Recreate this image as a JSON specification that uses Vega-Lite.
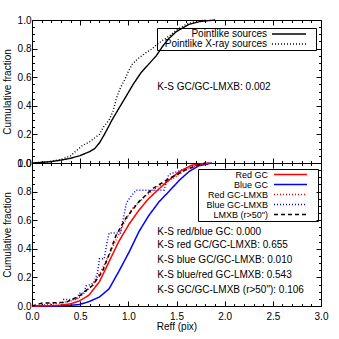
{
  "$schema": "https://vega.github.io/schema/vega-lite/v6.json",
  "padding": {"left": 1, "top": 14, "right": 5, "bottom": 2},
  "spacing": 0,
  "bounds": "flush",
  "config": {
    "font": "Liberation Sans",
    "view": {"stroke": "black", "strokeWidth": 1},
    "axis": {"domain": false, "grid": false, "tickColor": "black", "tickWidth": 1, "labelColor": "black", "labelFont": "Liberation Sans", "labelFontSize": 10, "titleFont": "Liberation Sans", "titleFontSize": 10, "titleFontWeight": "normal", "titleColor": "black", "labelFlush": false, "labelBound": false, "labelOverlap": false},
    "legend": {"labelFont": "Liberation Sans", "labelColor": "black"}
  },
  "datasets": {
    "top": [
      {"series": "Pointlike sources", "r": 0, "f": 0},
      {"series": "Pointlike sources", "r": 0.1, "f": 0.004},
      {"series": "Pointlike sources", "r": 0.2, "f": 0.01},
      {"series": "Pointlike sources", "r": 0.3, "f": 0.02},
      {"series": "Pointlike sources", "r": 0.4, "f": 0.033},
      {"series": "Pointlike sources", "r": 0.5, "f": 0.052},
      {"series": "Pointlike sources", "r": 0.6, "f": 0.08},
      {"series": "Pointlike sources", "r": 0.65, "f": 0.1},
      {"series": "Pointlike sources", "r": 0.7, "f": 0.14},
      {"series": "Pointlike sources", "r": 0.76, "f": 0.21},
      {"series": "Pointlike sources", "r": 0.83, "f": 0.3},
      {"series": "Pointlike sources", "r": 0.9, "f": 0.38},
      {"series": "Pointlike sources", "r": 0.98, "f": 0.47},
      {"series": "Pointlike sources", "r": 1.05, "f": 0.55},
      {"series": "Pointlike sources", "r": 1.13, "f": 0.63},
      {"series": "Pointlike sources", "r": 1.21, "f": 0.69},
      {"series": "Pointlike sources", "r": 1.29, "f": 0.75},
      {"series": "Pointlike sources", "r": 1.36, "f": 0.82},
      {"series": "Pointlike sources", "r": 1.42, "f": 0.87},
      {"series": "Pointlike sources", "r": 1.5, "f": 0.92},
      {"series": "Pointlike sources", "r": 1.63, "f": 0.97},
      {"series": "Pointlike sources", "r": 1.75, "f": 0.99},
      {"series": "Pointlike sources", "r": 1.9, "f": 1.0},
      {"series": "Pointlike X-ray sources", "r": 0, "f": 0},
      {"series": "Pointlike X-ray sources", "r": 0.1, "f": 0.005},
      {"series": "Pointlike X-ray sources", "r": 0.2, "f": 0.012},
      {"series": "Pointlike X-ray sources", "r": 0.3, "f": 0.025},
      {"series": "Pointlike X-ray sources", "r": 0.4, "f": 0.05},
      {"series": "Pointlike X-ray sources", "r": 0.45, "f": 0.08},
      {"series": "Pointlike X-ray sources", "r": 0.52, "f": 0.12},
      {"series": "Pointlike X-ray sources", "r": 0.6, "f": 0.15},
      {"series": "Pointlike X-ray sources", "r": 0.66, "f": 0.18},
      {"series": "Pointlike X-ray sources", "r": 0.7, "f": 0.2},
      {"series": "Pointlike X-ray sources", "r": 0.74, "f": 0.25},
      {"series": "Pointlike X-ray sources", "r": 0.8, "f": 0.3},
      {"series": "Pointlike X-ray sources", "r": 0.84, "f": 0.36},
      {"series": "Pointlike X-ray sources", "r": 0.88, "f": 0.46},
      {"series": "Pointlike X-ray sources", "r": 0.92, "f": 0.53},
      {"series": "Pointlike X-ray sources", "r": 0.96, "f": 0.58},
      {"series": "Pointlike X-ray sources", "r": 1.0, "f": 0.64},
      {"series": "Pointlike X-ray sources", "r": 1.04, "f": 0.69},
      {"series": "Pointlike X-ray sources", "r": 1.1, "f": 0.73},
      {"series": "Pointlike X-ray sources", "r": 1.18, "f": 0.77},
      {"series": "Pointlike X-ray sources", "r": 1.25, "f": 0.8},
      {"series": "Pointlike X-ray sources", "r": 1.3, "f": 0.83},
      {"series": "Pointlike X-ray sources", "r": 1.36, "f": 0.86},
      {"series": "Pointlike X-ray sources", "r": 1.43, "f": 0.89},
      {"series": "Pointlike X-ray sources", "r": 1.5, "f": 0.93},
      {"series": "Pointlike X-ray sources", "r": 1.6, "f": 0.97},
      {"series": "Pointlike X-ray sources", "r": 1.7, "f": 0.99},
      {"series": "Pointlike X-ray sources", "r": 1.8, "f": 1.0}
    ],
    "bottom": [
      {"series": "Blue GC", "r": 0, "f": 0},
      {"series": "Blue GC", "r": 0.28, "f": 0},
      {"series": "Blue GC", "r": 0.4, "f": 0.005},
      {"series": "Blue GC", "r": 0.49, "f": 0.01},
      {"series": "Blue GC", "r": 0.59, "f": 0.03},
      {"series": "Blue GC", "r": 0.7, "f": 0.063},
      {"series": "Blue GC", "r": 0.8, "f": 0.12},
      {"series": "Blue GC", "r": 0.9, "f": 0.24},
      {"series": "Blue GC", "r": 1.01, "f": 0.38},
      {"series": "Blue GC", "r": 1.11, "f": 0.52},
      {"series": "Blue GC", "r": 1.21, "f": 0.63},
      {"series": "Blue GC", "r": 1.32, "f": 0.73},
      {"series": "Blue GC", "r": 1.42, "f": 0.8},
      {"series": "Blue GC", "r": 1.53, "f": 0.88},
      {"series": "Blue GC", "r": 1.63, "f": 0.94},
      {"series": "Blue GC", "r": 1.73, "f": 0.98},
      {"series": "Blue GC", "r": 1.87, "f": 1.0},
      {"series": "Blue GC-LMXB", "r": 0, "f": 0},
      {"series": "Blue GC-LMXB", "r": 0.31, "f": 0},
      {"series": "Blue GC-LMXB", "r": 0.33, "f": 0.045},
      {"series": "Blue GC-LMXB", "r": 0.47, "f": 0.045},
      {"series": "Blue GC-LMXB", "r": 0.49, "f": 0.09},
      {"series": "Blue GC-LMXB", "r": 0.54, "f": 0.09},
      {"series": "Blue GC-LMXB", "r": 0.56, "f": 0.14},
      {"series": "Blue GC-LMXB", "r": 0.64, "f": 0.16},
      {"series": "Blue GC-LMXB", "r": 0.68, "f": 0.23},
      {"series": "Blue GC-LMXB", "r": 0.7, "f": 0.33},
      {"series": "Blue GC-LMXB", "r": 0.75, "f": 0.33},
      {"series": "Blue GC-LMXB", "r": 0.78, "f": 0.45},
      {"series": "Blue GC-LMXB", "r": 0.8, "f": 0.51},
      {"series": "Blue GC-LMXB", "r": 0.92, "f": 0.51},
      {"series": "Blue GC-LMXB", "r": 0.95, "f": 0.62},
      {"series": "Blue GC-LMXB", "r": 0.98, "f": 0.72},
      {"series": "Blue GC-LMXB", "r": 1.02, "f": 0.76},
      {"series": "Blue GC-LMXB", "r": 1.08, "f": 0.81},
      {"series": "Blue GC-LMXB", "r": 1.37, "f": 0.81},
      {"series": "Blue GC-LMXB", "r": 1.42, "f": 0.92},
      {"series": "Blue GC-LMXB", "r": 1.55, "f": 0.95},
      {"series": "Blue GC-LMXB", "r": 1.65, "f": 0.98},
      {"series": "Blue GC-LMXB", "r": 1.85, "f": 1.0},
      {"series": "Red GC-LMXB", "r": 0, "f": 0},
      {"series": "Red GC-LMXB", "r": 0.15, "f": 0.01},
      {"series": "Red GC-LMXB", "r": 0.28, "f": 0.02},
      {"series": "Red GC-LMXB", "r": 0.4, "f": 0.035},
      {"series": "Red GC-LMXB", "r": 0.49, "f": 0.06},
      {"series": "Red GC-LMXB", "r": 0.63, "f": 0.145},
      {"series": "Red GC-LMXB", "r": 0.73, "f": 0.26},
      {"series": "Red GC-LMXB", "r": 0.83, "f": 0.4},
      {"series": "Red GC-LMXB", "r": 0.94, "f": 0.56},
      {"series": "Red GC-LMXB", "r": 1.04, "f": 0.68},
      {"series": "Red GC-LMXB", "r": 1.18, "f": 0.77},
      {"series": "Red GC-LMXB", "r": 1.32, "f": 0.84},
      {"series": "Red GC-LMXB", "r": 1.46, "f": 0.89},
      {"series": "Red GC-LMXB", "r": 1.59, "f": 0.95},
      {"series": "Red GC-LMXB", "r": 1.76, "f": 0.99},
      {"series": "Red GC-LMXB", "r": 1.85, "f": 1.0},
      {"series": "Red GC", "r": 0, "f": 0},
      {"series": "Red GC", "r": 0.2, "f": 0.002},
      {"series": "Red GC", "r": 0.28, "f": 0.005},
      {"series": "Red GC", "r": 0.4, "f": 0.015},
      {"series": "Red GC", "r": 0.49, "f": 0.035},
      {"series": "Red GC", "r": 0.59, "f": 0.075},
      {"series": "Red GC", "r": 0.7, "f": 0.17},
      {"series": "Red GC", "r": 0.8, "f": 0.31},
      {"series": "Red GC", "r": 0.9, "f": 0.45},
      {"series": "Red GC", "r": 1.01, "f": 0.575},
      {"series": "Red GC", "r": 1.11, "f": 0.67},
      {"series": "Red GC", "r": 1.21, "f": 0.75},
      {"series": "Red GC", "r": 1.32, "f": 0.82},
      {"series": "Red GC", "r": 1.42, "f": 0.88},
      {"series": "Red GC", "r": 1.53, "f": 0.94},
      {"series": "Red GC", "r": 1.66, "f": 0.985},
      {"series": "Red GC", "r": 1.84, "f": 1.0},
      {"series": "LMXB (r>50\")", "r": 0, "f": 0},
      {"series": "LMXB (r>50\")", "r": 0.1, "f": 0.02},
      {"series": "LMXB (r>50\")", "r": 0.35, "f": 0.025},
      {"series": "LMXB (r>50\")", "r": 0.49, "f": 0.07},
      {"series": "LMXB (r>50\")", "r": 0.63, "f": 0.145},
      {"series": "LMXB (r>50\")", "r": 0.73, "f": 0.24},
      {"series": "LMXB (r>50\")", "r": 0.8, "f": 0.36},
      {"series": "LMXB (r>50\")", "r": 0.87, "f": 0.49},
      {"series": "LMXB (r>50\")", "r": 0.97, "f": 0.61},
      {"series": "LMXB (r>50\")", "r": 1.11, "f": 0.73},
      {"series": "LMXB (r>50\")", "r": 1.25, "f": 0.82},
      {"series": "LMXB (r>50\")", "r": 1.42, "f": 0.89},
      {"series": "LMXB (r>50\")", "r": 1.59, "f": 0.95},
      {"series": "LMXB (r>50\")", "r": 1.7, "f": 0.98},
      {"series": "LMXB (r>50\")", "r": 1.8, "f": 1.0}
    ],
    "topNotes": [
      {"label": "K-S GC/GC-LMXB: 0.002", "r": 1.3, "f": 0.53}
    ],
    "bottomNotes": [
      {"label": "K-S red/blue GC: 0.000", "r": 1.3, "f": 0.517},
      {"label": "K-S red GC/GC-LMXB: 0.655", "r": 1.3, "f": 0.424},
      {"label": "K-S blue GC/GC-LMXB: 0.010", "r": 1.3, "f": 0.32},
      {"label": "K-S blue/red GC-LMXB: 0.543", "r": 1.3, "f": 0.219},
      {"label": "K-S GC/GC-LMXB (r>50\"): 0.106", "r": 1.3, "f": 0.114}
    ]
  },
  "resolve": {"scale": {"color": "independent", "strokeDash": "independent"}, "legend": {"color": "independent", "strokeDash": "independent"}},
  "vconcat": [
    {
      "width": 289,
      "height": 143,
      "resolve": {"axis": {"x": "independent", "y": "independent"}},
      "layer": [
        {
          "data": {"name": "top"},
          "mark": {"type": "line", "strokeWidth": 1.4},
          "encoding": {
            "x": {"field": "r", "type": "quantitative", "scale": {"domain": [0, 3], "nice": false},
              "axis": {"orient": "bottom", "values": [0, 0.5, 1, 1.5, 2, 2.5, 3], "tickSize": -5, "labels": false, "title": null}},
            "y": {"field": "f", "type": "quantitative", "scale": {"domain": [0, 1], "nice": false},
              "axis": {"orient": "left", "values": [0, 0.2, 0.4, 0.6, 0.8, 1.0], "tickSize": -5, "format": ".1f", "labelPadding": 6, "title": "Cumulative fraction", "titlePadding": 5}},
            "color": {"field": "series", "type": "nominal",
              "scale": {"domain": ["Pointlike sources", "Pointlike X-ray sources"], "range": ["#000000", "#000000"]},
              "legend": {"orient": "none", "legendX": 125, "legendY": 8, "title": null, "strokeColor": "black", "padding": 1, "symbolType": "M-1.6667,0M36.33,0H47.67M49.67,0", "symbolSize": 36, "symbolStrokeWidth": 1.3, "symbolFillColor": "transparent", "labelAlign": "right", "labelOffset": 99, "symbolOffset": 0, "labelFontSize": 10, "rowPadding": -4}},
            "strokeDash": {"field": "series", "type": "nominal",
              "scale": {"domain": ["Pointlike sources", "Pointlike X-ray sources"], "range": [[1, 0], [1, 2]]},
              "legend": {"orient": "none", "legendX": 125, "legendY": 8, "title": null, "strokeColor": "black", "padding": 1, "symbolType": "M-1.6667,0M36.33,0H47.67M49.67,0", "symbolSize": 36, "symbolStrokeWidth": 1.3, "symbolFillColor": "transparent", "labelAlign": "right", "labelOffset": 99, "symbolOffset": 0, "labelFontSize": 10, "rowPadding": -4}}
          }
        },
        {
          "data": {"name": "top"},
          "mark": {"type": "point", "opacity": 0},
          "encoding": {
            "x": {"field": "r", "type": "quantitative", "scale": {"domain": [0, 3], "nice": false},
              "axis": {"orient": "top", "values": [0, 0.5, 1, 1.5, 2, 2.5, 3], "tickSize": -5, "labels": false, "title": null}},
            "y": {"field": "f", "type": "quantitative", "scale": {"domain": [0, 1], "nice": false},
              "axis": {"orient": "right", "values": [0, 0.2, 0.4, 0.6, 0.8, 1.0], "tickSize": -5, "labels": false, "title": null}}
          }
        },
        {
          "data": {"name": "top"},
          "mark": {"type": "point", "opacity": 0},
          "encoding": {
            "x": {"field": "r", "type": "quantitative", "scale": {"domain": [0, 3], "nice": false},
              "axis": {"orient": "bottom", "values": [0.1, 0.2, 0.3, 0.4, 0.6, 0.7, 0.8, 0.9, 1.1, 1.2, 1.3, 1.4, 1.6, 1.7, 1.8, 1.9, 2.1, 2.2, 2.3, 2.4, 2.6, 2.7, 2.8, 2.9], "tickSize": -2.5, "labels": false, "title": null}},
            "y": {"field": "f", "type": "quantitative", "scale": {"domain": [0, 1], "nice": false},
              "axis": {"orient": "left", "values": [0.05, 0.1, 0.15, 0.25, 0.3, 0.35, 0.45, 0.5, 0.55, 0.65, 0.7, 0.75, 0.85, 0.9, 0.95], "tickSize": -2.5, "labels": false, "title": null}}
          }
        },
        {
          "data": {"name": "top"},
          "mark": {"type": "point", "opacity": 0},
          "encoding": {
            "x": {"field": "r", "type": "quantitative", "scale": {"domain": [0, 3], "nice": false},
              "axis": {"orient": "top", "values": [0.1, 0.2, 0.3, 0.4, 0.6, 0.7, 0.8, 0.9, 1.1, 1.2, 1.3, 1.4, 1.6, 1.7, 1.8, 1.9, 2.1, 2.2, 2.3, 2.4, 2.6, 2.7, 2.8, 2.9], "tickSize": -2.5, "labels": false, "title": null}},
            "y": {"field": "f", "type": "quantitative", "scale": {"domain": [0, 1], "nice": false},
              "axis": {"orient": "right", "values": [0.05, 0.1, 0.15, 0.25, 0.3, 0.35, 0.45, 0.5, 0.55, 0.65, 0.7, 0.75, 0.85, 0.9, 0.95], "tickSize": -2.5, "labels": false, "title": null}}
          }
        },
        {
          "data": {"name": "topNotes"},
          "mark": {"type": "text", "align": "left", "baseline": "middle", "fontSize": 10, "font": "Liberation Sans", "color": "black"},
          "encoding": {
            "x": {"field": "r", "type": "quantitative", "scale": {"domain": [0, 3], "nice": false}, "axis": null},
            "y": {"field": "f", "type": "quantitative", "scale": {"domain": [0, 1], "nice": false}, "axis": null},
            "text": {"field": "label"}
          }
        }
      ]
    },
    {
      "width": 289,
      "height": 143,
      "resolve": {"axis": {"x": "independent", "y": "independent"}},
      "layer": [
        {
          "data": {"name": "bottom"},
          "mark": {"type": "line", "strokeWidth": 1.5},
          "encoding": {
            "x": {"field": "r", "type": "quantitative", "scale": {"domain": [0, 3], "nice": false},
              "axis": {"orient": "bottom", "values": [0, 0.5, 1, 1.5, 2, 2.5, 3], "tickSize": -5, "format": ".1f", "labelPadding": 10, "title": "Reff (pix)", "titlePadding": 0}},
            "y": {"field": "f", "type": "quantitative", "scale": {"domain": [0, 1], "nice": false},
              "axis": {"orient": "left", "values": [0, 0.2, 0.4, 0.6, 0.8, 1.0], "tickSize": -5, "format": ".1f", "labelPadding": 6, "title": "Cumulative fraction", "titlePadding": 5}},
            "color": {"field": "series", "type": "nominal",
              "scale": {"domain": ["Red GC", "Blue GC", "Red GC-LMXB", "Blue GC-LMXB", "LMXB (r>50\")"], "range": ["#ff0000", "#0000ff", "#ff0000", "#0000ff", "#000000"]},
              "legend": {"orient": "none", "legendX": 166, "legendY": 6, "title": null, "strokeColor": "black", "padding": 1, "symbolType": "M-1.8,0M28.2,0H41.4M44.2,0", "symbolSize": 25, "symbolStrokeWidth": 1.4, "symbolFillColor": "transparent", "labelAlign": "right", "labelOffset": 60, "symbolOffset": 0, "labelFontSize": 9, "rowPadding": -3.5}},
            "strokeDash": {"field": "series", "type": "nominal",
              "scale": {"domain": ["Red GC", "Blue GC", "Red GC-LMXB", "Blue GC-LMXB", "LMXB (r>50\")"], "range": [[1, 0], [1, 0], [1, 2], [1, 2], [4, 3]]},
              "legend": {"orient": "none", "legendX": 166, "legendY": 6, "title": null, "strokeColor": "black", "padding": 1, "symbolType": "M-1.8,0M28.2,0H41.4M44.2,0", "symbolSize": 25, "symbolStrokeWidth": 1.4, "symbolFillColor": "transparent", "labelAlign": "right", "labelOffset": 60, "symbolOffset": 0, "labelFontSize": 9, "rowPadding": -3.5}}
          }
        },
        {
          "data": {"name": "bottom"},
          "mark": {"type": "point", "opacity": 0},
          "encoding": {
            "x": {"field": "r", "type": "quantitative", "scale": {"domain": [0, 3], "nice": false},
              "axis": {"orient": "top", "values": [0, 0.5, 1, 1.5, 2, 2.5, 3], "tickSize": -5, "labels": false, "title": null}},
            "y": {"field": "f", "type": "quantitative", "scale": {"domain": [0, 1], "nice": false},
              "axis": {"orient": "right", "values": [0, 0.2, 0.4, 0.6, 0.8, 1.0], "tickSize": -5, "labels": false, "title": null}}
          }
        },
        {
          "data": {"name": "bottom"},
          "mark": {"type": "point", "opacity": 0},
          "encoding": {
            "x": {"field": "r", "type": "quantitative", "scale": {"domain": [0, 3], "nice": false},
              "axis": {"orient": "bottom", "values": [0.1, 0.2, 0.3, 0.4, 0.6, 0.7, 0.8, 0.9, 1.1, 1.2, 1.3, 1.4, 1.6, 1.7, 1.8, 1.9, 2.1, 2.2, 2.3, 2.4, 2.6, 2.7, 2.8, 2.9], "tickSize": -2.5, "labels": false, "title": null}},
            "y": {"field": "f", "type": "quantitative", "scale": {"domain": [0, 1], "nice": false},
              "axis": {"orient": "left", "values": [0.05, 0.1, 0.15, 0.25, 0.3, 0.35, 0.45, 0.5, 0.55, 0.65, 0.7, 0.75, 0.85, 0.9, 0.95], "tickSize": -2.5, "labels": false, "title": null}}
          }
        },
        {
          "data": {"name": "bottom"},
          "mark": {"type": "point", "opacity": 0},
          "encoding": {
            "x": {"field": "r", "type": "quantitative", "scale": {"domain": [0, 3], "nice": false},
              "axis": {"orient": "top", "values": [0.1, 0.2, 0.3, 0.4, 0.6, 0.7, 0.8, 0.9, 1.1, 1.2, 1.3, 1.4, 1.6, 1.7, 1.8, 1.9, 2.1, 2.2, 2.3, 2.4, 2.6, 2.7, 2.8, 2.9], "tickSize": -2.5, "labels": false, "title": null}},
            "y": {"field": "f", "type": "quantitative", "scale": {"domain": [0, 1], "nice": false},
              "axis": {"orient": "right", "values": [0.05, 0.1, 0.15, 0.25, 0.3, 0.35, 0.45, 0.5, 0.55, 0.65, 0.7, 0.75, 0.85, 0.9, 0.95], "tickSize": -2.5, "labels": false, "title": null}}
          }
        },
        {
          "data": {"name": "bottomNotes"},
          "mark": {"type": "text", "align": "left", "baseline": "middle", "fontSize": 10, "font": "Liberation Sans", "color": "black"},
          "encoding": {
            "x": {"field": "r", "type": "quantitative", "scale": {"domain": [0, 3], "nice": false}, "axis": null},
            "y": {"field": "f", "type": "quantitative", "scale": {"domain": [0, 1], "nice": false}, "axis": null},
            "text": {"field": "label"}
          }
        }
      ]
    }
  ]
}
